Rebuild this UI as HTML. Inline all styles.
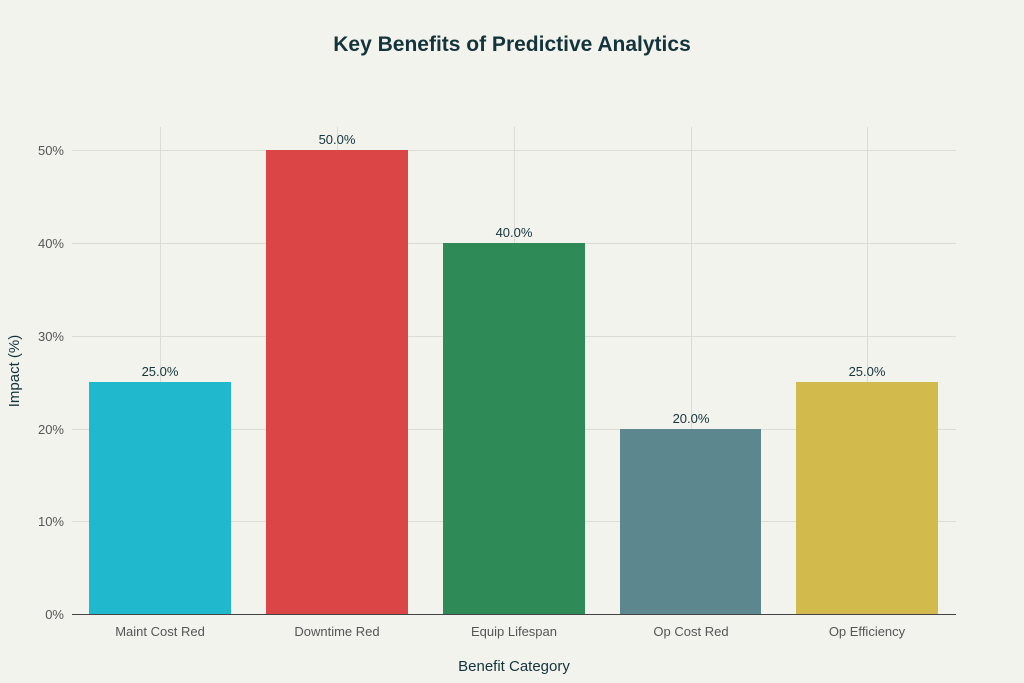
<!DOCTYPE html>
<html><head><meta charset="utf-8"><style>
body{margin:0;background:#f3f3ee;}
svg{display:block;font-family:"Liberation Sans",sans-serif;}
</style></head><body>
<svg width="1024" height="683" viewBox="0 0 1024 683">
<rect width="1024" height="683" fill="#f3f3ee"/>
<text x="512" y="51" text-anchor="middle" font-size="21" font-weight="bold" fill="#13343b">Key Benefits of Predictive Analytics</text>
<g stroke="#dcdcd6" stroke-width="1">
<line x1="72" x2="956" y1="150.5" y2="150.5"/>
<line x1="72" x2="956" y1="243.5" y2="243.5"/>
<line x1="72" x2="956" y1="336.5" y2="336.5"/>
<line x1="72" x2="956" y1="429.5" y2="429.5"/>
<line x1="72" x2="956" y1="521.5" y2="521.5"/>
<line x1="160.5" x2="160.5" y1="127" y2="614"/>
<line x1="337.5" x2="337.5" y1="127" y2="614"/>
<line x1="514.5" x2="514.5" y1="127" y2="614"/>
<line x1="691.5" x2="691.5" y1="127" y2="614"/>
<line x1="867.5" x2="867.5" y1="127" y2="614"/>
</g>
<rect x="89" y="382" width="142" height="232" fill="#1fb8cd"/>
<rect x="266" y="150" width="142" height="464" fill="#db4545"/>
<rect x="443" y="243" width="142" height="371" fill="#2e8b57"/>
<rect x="620" y="429" width="141" height="185" fill="#5d878f"/>
<rect x="796" y="382" width="142" height="232" fill="#d2ba4c"/>
<line x1="72" x2="956" y1="614.5" y2="614.5" stroke="#444" stroke-width="1"/>
<g font-size="13" fill="#13343b" text-anchor="middle">
<text x="160" y="376">25.0%</text>
<text x="337" y="144">50.0%</text>
<text x="514" y="237">40.0%</text>
<text x="691" y="423">20.0%</text>
<text x="867" y="376">25.0%</text>
</g>
<g font-size="13" fill="#555" text-anchor="end">
<text x="64" y="155">50%</text>
<text x="64" y="248">40%</text>
<text x="64" y="341">30%</text>
<text x="64" y="434">20%</text>
<text x="64" y="526">10%</text>
<text x="64" y="619">0%</text>
</g>
<g font-size="13" fill="#555" text-anchor="middle">
<text x="160" y="636">Maint Cost Red</text>
<text x="337" y="636">Downtime Red</text>
<text x="514" y="636">Equip Lifespan</text>
<text x="691" y="636">Op Cost Red</text>
<text x="867" y="636">Op Efficiency</text>
</g>
<text x="514" y="671" text-anchor="middle" font-size="15" fill="#13343b">Benefit Category</text>
<text transform="translate(19,371) rotate(-90)" text-anchor="middle" font-size="15" fill="#13343b">Impact (%)</text>
</svg>
</body></html>
